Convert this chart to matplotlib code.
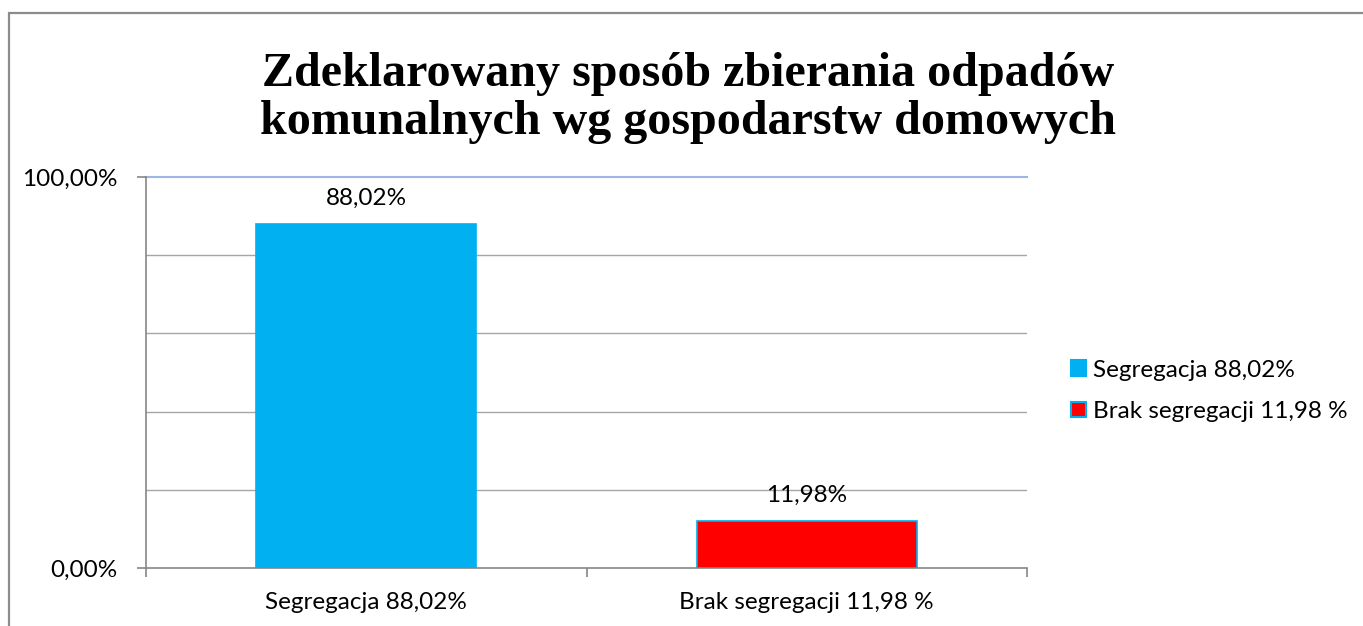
import numpy as np
import matplotlib.pyplot as plt
from matplotlib.patches import Rectangle, Patch

categories = ['Segregacja 88,02%', 'Brak segregacji 11,98 %']
values = [0.8802, 0.1198]
value_labels = ['88,02%', '11,98%']
colors = ['#00B0F0', '#FF0000']
edges = ['#00B0F0', '#00B0F0']
title = 'Zdeklarowany sposób zbierania odpadów\nkomunalnych wg gospodarstw domowych'

plt.rcParams['font.family'] = ['Lato', 'DejaVu Sans']
fs = 17.5

W, H = 1363, 626
fig = plt.figure(figsize=(W / 100, H / 100), dpi=100)
fig.patch.set_facecolor('white')

# outer frame of the chart, cut by the picture edges on right and bottom
fig.patches.append(Rectangle((9 / W, -0.1), 1.2, 1 - 13 / H + 0.1,
                             transform=fig.transFigure, fill=False,
                             edgecolor='#8C8C8C', lw=1.6))

ax = fig.add_axes([146 / W, 1 - 568 / H, (1027 - 146) / W, (568 - 177) / H])
x = np.arange(len(categories))
bars = ax.bar(x, values, width=0.5, color=colors, edgecolor=edges, linewidth=1.2,
              zorder=3)

ax.set_xlim(-0.5, 1.5)
ax.set_ylim(0, 1)

# gridlines every 20%, top one light blue
for g in [0.2, 0.4, 0.6, 0.8]:
    ax.axhline(g, color='#A6A6A6', lw=1.0, zorder=1)
ax.axhline(1.0, color='#9DB6E4', lw=1.5, zorder=1, clip_on=False)

for b, lab in zip(bars, value_labels):
    ax.annotate(lab, (b.get_x() + b.get_width() / 2, b.get_height()),
                xytext=(0, 11), textcoords='offset points',
                ha='center', va='bottom', fontsize=fs)

ax.set_yticks([0, 1])
ax.set_yticklabels(['0,00%', '100,00%'], fontsize=fs)
ax.set_xticks([-0.5, 0.5, 1.5])
ax.set_xticklabels([])
ax.set_xticks(x, minor=True)
ax.set_xticklabels(categories, minor=True, fontsize=fs)
ax.tick_params(axis='x', which='minor', length=0, pad=17)
ax.tick_params(axis='both', which='major', length=6.5, color='#868686', width=1.2)
ax.tick_params(axis='y', pad=14)

for s in ['top', 'right']:
    ax.spines[s].set_visible(False)
for s in ['left', 'bottom']:
    ax.spines[s].set_color('#868686')
    ax.spines[s].set_linewidth(1.2)
ax.spines['left'].set_zorder(4)

fig.text(688 / W, 1 - 98 / H, title, ha='center', va='center',
         family='Liberation Serif', fontweight='bold', fontsize=34.6,
         linespacing=1.12)

handles = [Patch(facecolor=c, edgecolor=e, lw=1.5) for c, e in zip(colors, edges)]
fig.legend(handles, categories, loc='center left',
           bbox_to_anchor=(1071 / W, 1 - 391 / H), frameon=False,
           fontsize=fs, handlelength=0.6, handleheight=0.6,
           handletextpad=0.3, labelspacing=0.85, borderpad=0, borderaxespad=0)

fig.savefig('out.png', dpi=100)
